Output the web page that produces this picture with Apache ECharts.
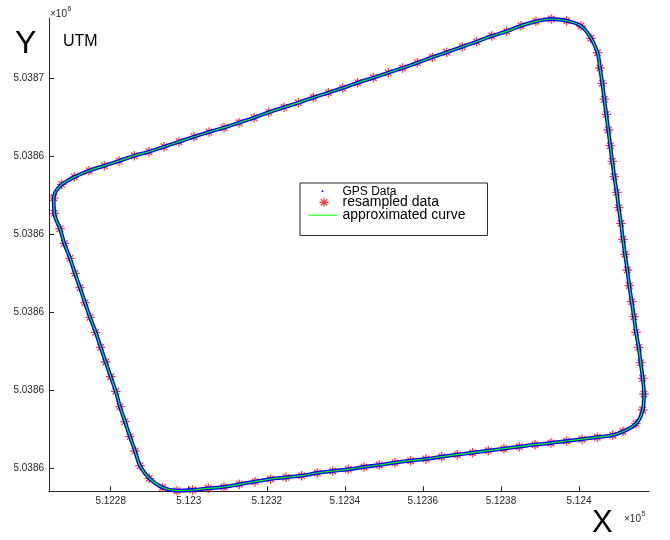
<!DOCTYPE html>
<html><head><meta charset="utf-8">
<script src="https://cdn.jsdelivr.net/npm/echarts@6/dist/echarts.min.js"></script>
<style>html,body{margin:0;padding:0;background:#fff}#c{width:670px;height:540px}</style>
</head><body><div id="c"></div>
<script>
// Resampled points along the track (UTM metres)
const resX = [
512267.44, 512270.67, 512274.44, 512278.36, 512282.13, 512286.05, 512289.81, 512293.66, 512297.50, 512301.35,
512305.19, 512309.03, 512312.88, 512316.72, 512320.49, 512324.41, 512328.07, 512331.92, 512335.76, 512339.45,
512343.29, 512347.29, 512351.13, 512354.82, 512358.57, 512362.41, 512366.10, 512370.10, 512373.79, 512377.63,
512381.47, 512385.14, 512388.98, 512392.90, 512396.85, 512400.51, 512403.08, 512404.74, 512405.38, 512405.97,
512406.48, 512407.00, 512407.51, 512408.02, 512408.53, 512409.05, 512409.66, 512410.17, 512410.76, 512411.27,
512411.79, 512412.38, 512412.89, 512413.50, 512414.09, 512414.61, 512415.30, 512415.81, 512416.32, 512416.66,
512416.32, 512414.61, 512411.27, 512408.64, 512404.69, 512400.77, 512396.85, 512392.83, 512388.73, 512384.70,
512380.78, 512376.76, 512372.76, 512368.82, 512364.82, 512360.79, 512356.87, 512352.85, 512348.83, 512344.91,
512340.88, 512336.89, 512332.94, 512328.94, 512324.92, 512321.00, 512316.98, 512312.95, 512309.03, 512305.01,
512301.01, 512296.99, 512293.27, 512289.89, 512287.51, 512286.23, 512284.95, 512283.66, 512282.38, 512281.28,
512280.00, 512278.72, 512277.44, 512276.16, 512274.70, 512273.41, 512272.13, 512270.85, 512269.57, 512268.11,
512267.01, 512265.55, 512265.39
];
const resY = [
5038672.92, 5038674.79, 5038676.41, 5038677.69, 5038678.90, 5038680.26, 5038681.28, 5038682.56, 5038683.85, 5038685.13,
5038686.33, 5038687.44, 5038688.72, 5038690.00, 5038691.38, 5038692.67, 5038693.85, 5038695.18, 5038696.41, 5038697.62,
5038698.97, 5038700.26, 5038701.54, 5038702.74, 5038704.10, 5038705.49, 5038706.77, 5038708.21, 5038709.49, 5038710.95,
5038712.15, 5038713.59, 5038714.72, 5038715.31, 5038714.87, 5038713.51, 5038710.36, 5038706.67, 5038702.74, 5038698.82,
5038694.74, 5038690.87, 5038686.85, 5038682.82, 5038678.82, 5038674.87, 5038670.87, 5038666.92, 5038662.92, 5038658.82,
5038654.97, 5038650.95, 5038646.92, 5038642.82, 5038638.97, 5038634.97, 5038631.13, 5038627.18, 5038623.18, 5038619.15,
5038615.05, 5038611.54, 5038609.54, 5038608.59, 5038608.08, 5038607.56, 5038607.10, 5038606.59, 5038606.15, 5038605.64,
5038605.13, 5038604.62, 5038604.10, 5038603.59, 5038603.08, 5038602.49, 5038602.05, 5038601.54, 5038600.95, 5038600.44,
5038599.85, 5038599.41, 5038598.90, 5038598.21, 5038597.79, 5038597.36, 5038596.67, 5038596.00, 5038595.31, 5038594.97,
5038594.54, 5038594.36, 5038595.18, 5038597.54, 5038600.77, 5038604.54, 5038608.21, 5038612.05, 5038615.90, 5038619.85,
5038623.59, 5038627.36, 5038631.13, 5038634.97, 5038638.82, 5038642.56, 5038646.41, 5038650.10, 5038653.95, 5038657.79,
5038661.54, 5038665.49, 5038669.46
];
const xTicks = [512280, 512300, 512320, 512340, 512360, 512380, 512400];
const xTickLabels = ['5.1228', '5.123', '5.1232', '5.1234', '5.1236', '5.1238', '5.124'];
const yTicks = [5038600, 5038620, 5038640, 5038660, 5038680, 5038700];
const yTickLabels = ['5.0386', '5.0386', '5.0386', '5.0386', '5.0386', '5.0387'];
const seriesNames = ['GPS Data', 'resampled data', 'approximated curve'];

const pts = resX.map((x, i) => [x, resY[i]]);
const loop = pts.concat([pts[0]]);

const FONT = '"Liberation Sans", Arial, Helvetica, sans-serif';
const AX = '#262626';
const STAR = 'path://M0,5L10,5M5,0L5,10M1.6,1.6L8.4,8.4M8.4,1.6L1.6,8.4';

const chart = echarts.init(document.getElementById('c'), null, {renderer: 'canvas'});
chart.setOption({
  animation: false,
  backgroundColor: '#fff',
  grid: {left: 49, right: 21, top: 18.3, bottom: 48.8, outerBoundsMode: 'none'},
  xAxis: {
    type: 'value', min: 512264.19, max: 512417.94,
    axisLine: {show: true, onZero: false, lineStyle: {color: AX, width: 1}},
    axisTick: {show: true, inside: true, length: 5, customValues: xTicks, lineStyle: {color: AX}},
    axisLabel: {customValues: xTicks, formatter: v => xTickLabels[xTicks.indexOf(v)], color: AX,
      fontSize: 10, fontFamily: FONT, margin: 5},
    splitLine: {show: false}
  },
  yAxis: {
    type: 'value', min: 5038594.23, max: 5038715.49,
    axisLine: {show: true, onZero: false, lineStyle: {color: AX, width: 1}},
    axisTick: {show: true, inside: true, length: 5, customValues: yTicks, lineStyle: {color: AX}},
    axisLabel: {customValues: yTicks, formatter: v => yTickLabels[yTicks.indexOf(v)], color: AX,
      fontSize: 10, fontFamily: FONT, margin: 5},
    splitLine: {show: false}
  },
  legend: {
    left: 300, top: 183, orient: 'vertical', itemWidth: 30, itemHeight: 11, itemGap: -2.9,
    padding: [2.2, 22, 12.4, 5], borderColor: AX, borderWidth: 1, backgroundColor: '#fff',
    selectedMode: false,
    textStyle: {fontFamily: FONT, color: '#000', fontSize: 14, lineHeight: 11},
    data: [
      {name: seriesNames[0], icon: 'path://M0,0L0,0M30,11L30,11M14.2,4.7h1.6v1.6h-1.6z',
        itemStyle: {color: '#0000ff', borderWidth: 0}, textStyle: {fontSize: 12}},
      {name: seriesNames[1], icon: 'path://M0,0L0,0M30,11L30,11M12,5.5L21,5.5M16.5,1L16.5,10M13.3,2.3L19.7,8.7M19.7,2.3L13.3,8.7',
        itemStyle: {color: 'none', borderColor: '#ff0000', borderWidth: 1.2}},
      {name: seriesNames[2], icon: 'path://M0,0L0,0M30,11L30,11M1,5.5L31,5.5',
        itemStyle: {color: 'none', borderColor: '#00ff00', borderWidth: 1}}
    ]
  },
  series: [
    {name: seriesNames[0], type: 'line', data: loop, smooth: 0.4, symbol: 'none', clip: false,
      lineStyle: {color: '#0000ff', width: 3.8}, itemStyle: {color: '#0000ff'}, silent: true},
    {name: seriesNames[1], type: 'scatter', data: pts, symbol: STAR, symbolSize: 9.5, clip: false,
      itemStyle: {color: 'none', borderColor: '#ff0000', borderWidth: 1.3}, silent: true},
    {name: seriesNames[2], type: 'line', data: loop, smooth: 0.4, symbol: 'none', clip: false,
      lineStyle: {color: '#00ff00', width: 1.2}, itemStyle: {color: '#00ff00'}, silent: true}
  ],
  graphic: [
    {type: 'text', x: 15, y: 44, style: {text: 'Y', fontSize: 32, fontFamily: FONT, fill: '#000', verticalAlign: 'middle'}},
    {type: 'text', x: 63, y: 41.5, style: {text: 'UTM', fontSize: 16, fontFamily: FONT, fill: '#000', verticalAlign: 'middle'}},
    {type: 'text', x: 50, y: 14, style: {text: '×10', fontSize: 10, fontFamily: FONT, fill: AX, verticalAlign: 'middle'}},
    {type: 'text', x: 67.5, y: 9, style: {text: '6', fontSize: 7, fontFamily: FONT, fill: AX, verticalAlign: 'middle'}},
    {type: 'text', x: 592, y: 523.5, style: {text: 'X', fontSize: 31, fontFamily: FONT, fill: '#000', verticalAlign: 'middle'}},
    {type: 'text', x: 624, y: 519, style: {text: '×10', fontSize: 10, fontFamily: FONT, fill: AX, verticalAlign: 'middle'}},
    {type: 'text', x: 641.5, y: 514, style: {text: '5', fontSize: 7, fontFamily: FONT, fill: AX, verticalAlign: 'middle'}}
  ]
});
</script>
</body></html>
